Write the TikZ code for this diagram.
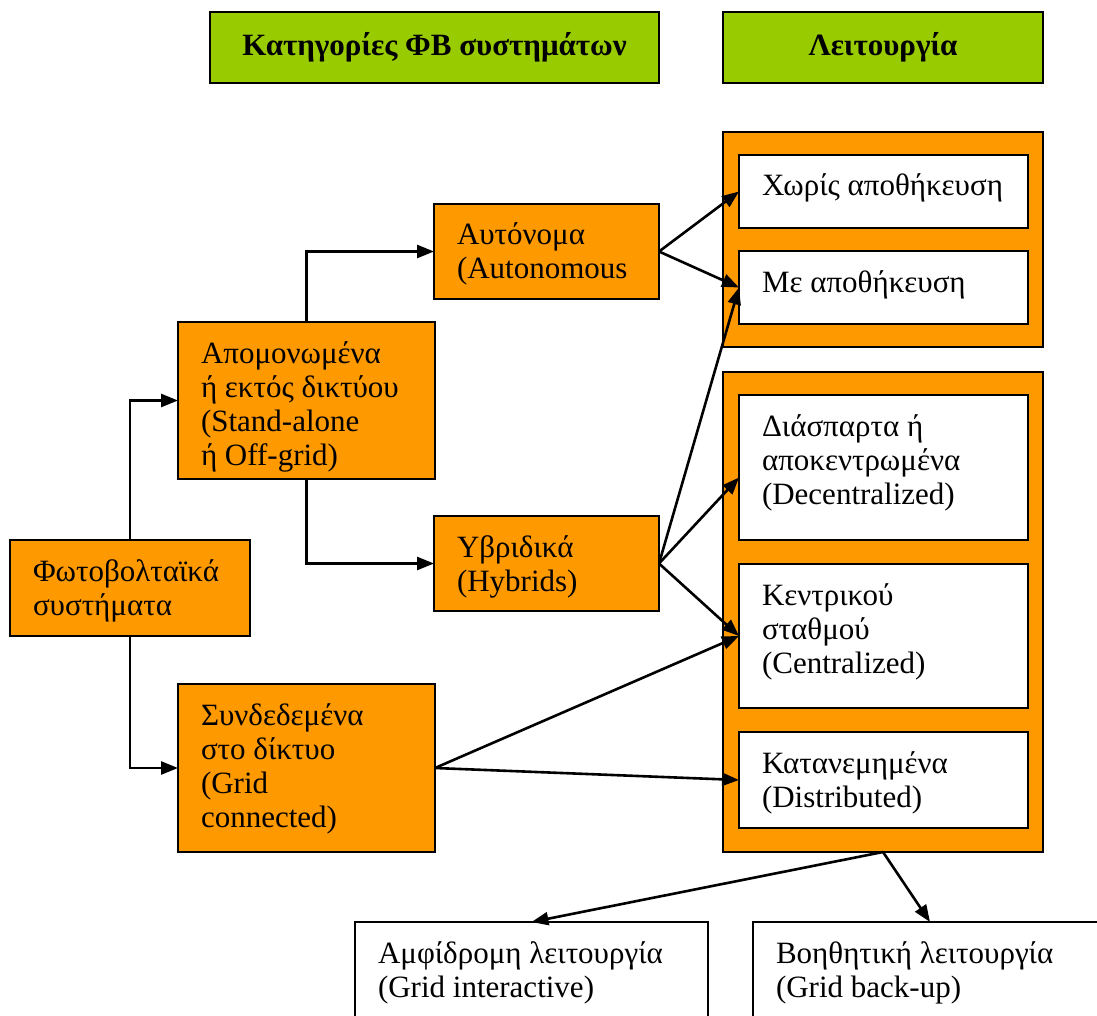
\documentclass[tikz,border=0pt]{standalone}
\usepackage{fontspec}
\setmainfont{Liberation Serif}
\usetikzlibrary{arrows.meta}
\definecolor{orng}{HTML}{FF9900}
\definecolor{grn}{HTML}{99CC00}
\tikzset{
  boxbase/.style={draw=black, line width=2.4pt, inner sep=0pt, outer sep=0pt, rectangle},
  orbox/.style={boxbase, fill=orng},
  whbox/.style={boxbase, fill=white},
  grbox/.style={boxbase, fill=grn},
  txt/.style={inner sep=0pt, outer sep=0pt, align=left, font=\fontsize{31}{34}\selectfont},
  arr/.style={line width=2.6pt, -{Triangle[length=17pt,width=13pt]}},
}
\newcommand\mkbox[7]{%
  \node[#6, minimum width={#4-#2}, minimum height={#5-#3}, anchor=north west] (#1) at (#2,#3) {};
  \node[txt, anchor=north west] (#1t) at ([xshift=23pt,yshift=-16pt]#1.north west) {\rule{0pt}{25pt}#7};
}
\begin{document}
\begin{tikzpicture}[x=1pt,y=-1pt]
\useasboundingbox (0,0) rectangle (1097,1016);
\clip (0,0) rectangle (1097,1016);
% headers
\node[grbox, minimum width=449, minimum height=71, anchor=north west] (h1) at (210,12) {};
\node[txt, font=\fontsize{31}{34}\selectfont\bfseries] (h1t) at (h1.center) {Κατηγορίες ΦΒ συστημάτων};
\node[grbox, minimum width=320, minimum height=71, anchor=north west] (h2) at (723,12) {};
\node[txt, font=\fontsize{31}{34}\selectfont\bfseries] (h2t) at (h2.center) {Λειτουργία};
% groups
\node[orbox, minimum width=320, minimum height=215, anchor=north west] (g1) at (723,132) {};
\node[orbox, minimum width=320, minimum height=480, anchor=north west] (g2) at (723,372) {};
% left boxes
\mkbox{pv}{10}{540}{250}{636}{orbox}{Φωτοβολταϊκά\\συστήματα}
\mkbox{iso}{178}{322}{435}{479}{orbox}{Απομονωμένα\\ή εκτός δικτύου\\(Stand-alone\\ή Off-grid)}
\mkbox{grid}{178}{684}{435}{852}{orbox}{Συνδεδεμένα\\στο δίκτυο\\(Grid\\connected)}
\mkbox{auto}{434}{204}{659}{299}{orbox}{Αυτόνομα\\(Autonomous}
\mkbox{hyb}{434}{516}{659}{611}{orbox}{Υβριδικά\\(Hybrids)}
% right boxes
\mkbox{nost}{739}{155}{1028}{228}{whbox}{Χωρίς αποθήκευση}
\mkbox{st}{739}{251}{1028}{324}{whbox}{Με αποθήκευση}
\mkbox{dec}{739}{395}{1028}{540}{whbox}{Διάσπαρτα ή\\αποκεντρωμένα\\(Decentralized)}
\mkbox{cen}{739}{564}{1028}{708}{whbox}{Κεντρικού\\σταθμού\\(Centralized)}
\mkbox{dist}{739}{732}{1028}{828}{whbox}{Κατανεμημένα\\(Distributed)}
% bottom boxes
\mkbox{aa}{355}{922}{708}{1060}{whbox}{Αμφίδρομη λειτουργία\\(Grid interactive)}
\mkbox{bb}{753}{922}{1108}{1060}{whbox}{Βοηθητική λειτουργία\\(Grid back-up)}
% connectors
\draw[arr] (pv.north) |- (iso.west);
\draw[arr] (pv.south) |- (grid.west);
\draw[arr] (iso.north) |- (auto.west);
\draw[arr] (iso.south) |- (hyb.west);
\draw[arr] (auto.east) -- (nost.west);
\draw[arr] (auto.east) -- (st.west);
\draw[arr] (hyb.east) -- (st.west);
\draw[arr] (hyb.east) -- ([yshift=-10pt]dec.west);
\draw[arr] (hyb.east) -- (cen.west);
\draw[arr] (grid.east) -- (cen.west);
\draw[arr] (grid.east) -- (dist.west);
\draw[arr] (g2.south) -- (aa.north);
\draw[arr] (g2.south) -- ([xshift=177pt]bb.north west);
\end{tikzpicture}
\end{document}
